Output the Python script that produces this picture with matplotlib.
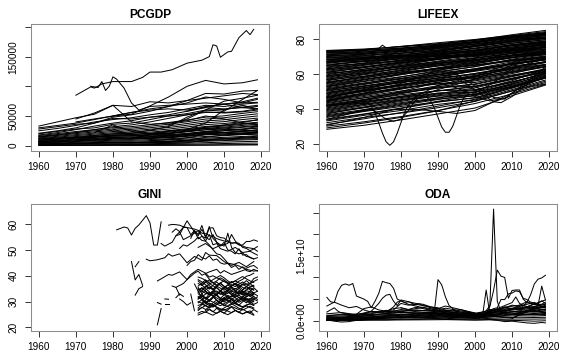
import numpy as np
import matplotlib
matplotlib.use("Agg")
import matplotlib.pyplot as plt

plt.rcParams['font.family'] = ['Liberation Sans', 'DejaVu Sans']

# ---------------- PCGDP (thousand US$) ----------------
gdp_years = [1960, 1965, 1970, 1975, 1980, 1985, 1990, 1995, 2000, 2005, 2010, 2015, 2019]

gdp_grid = [
    [33, 40, 47, 53, 68, 66, 74, 72, 76, 80, 84, 88, 86],
    [21, 25, 30, 38, 48, 52, 58, 66, 76, 88, 87, 92, 93],
    [None, None, 14, 17, 20, 21, 26, 32, 48, 60, 58, 78, 93],
    [None, None, None, None, None, None, None, None, 58, 66, 70, 74, 80],
    [None, None, None, None, 50, 56, 62, 66, 72, 82, 78, 72, 73],
    [None, None, 40, 45, 50, 53, 67, 82, 100, 110, 104, 106, 111],
    [25, 29, 34, 40, 44, 47, 52, 56, 62, 68, 66, 70, 72],
    [None, None, None, None, None, 13, 18, 25, 27, 38, 60, 68, 62],
    [None, None, 45, 55, 68, 40, 36, 38, 42, 50, 45, 38, 36],
    [18, 22, 27, 33, 38, 42, 48, 52, 58, 64, 62, 64, 66],
    [20, 24, 28, 30, 36, 38, 44, 50, 54, 60, 61, 65, 68],
    [15, 18, 22, 27, 32, 35, 40, 46, 52, 57, 55, 57, 60],
    [28, 32, 36, 38, 46, 45, 48, 50, 52, 56, 56, 58, 62],
    [None, None, None, None, None, None, None, 35, 45, 60, 75, 80, 85],
    [30, 34, 38, 44, 50, 56, 60, 62, 60, 65, 70, 72, 78],
    [0.2, 0.3, 0.3, 0.4, 0.5, 0.5, 0.6, 0.6, 0.7, 0.8, 1.0, 1.2, 1.3],
    [0.6, 0.7, 0.8, 0.9, 1.0, 0.9, 0.8, 0.9, 1.0, 1.2, 1.5, 1.7, 1.8],
    [1.0, 1.2, 1.4, 1.6, 1.9, 1.8, 1.9, 2.1, 2.4, 2.9, 3.6, 4.1, 4.4],
    [1.6, 2.0, 2.4, 2.8, 3.3, 3.1, 3.4, 3.8, 4.2, 5.0, 6.0, 6.8, 7.3],
    [2.2, 2.7, 3.3, 3.9, 4.6, 4.3, 4.8, 5.4, 6.2, 7.4, 8.6, 9.6, 10.3],
    [3.0, 3.6, 4.3, 5.2, 6.1, 5.8, 6.6, 7.5, 8.6, 10.1, 11.2, 12.4, 13.2],
    [3.8, 4.6, 5.5, 6.6, 7.6, 7.4, 8.4, 9.6, 11.0, 12.8, 14.0, 15.5, 16.4],
    [4.6, 5.7, 6.9, 8.0, 9.1, 9.0, 10.3, 11.6, 13.4, 15.5, 16.8, 18.6, 19.7],
    [5.5, 6.8, 8.2, 9.5, 10.7, 10.8, 12.2, 13.8, 15.8, 18.2, 19.5, 21.6, 23.0],
    [6.4, 7.9, 9.6, 11.0, 12.4, 12.6, 14.2, 15.9, 18.3, 21.0, 22.4, 24.7, 26.2],
    [7.4, 9.1, 11.0, 12.6, 14.1, 14.5, 16.2, 18.1, 20.8, 23.8, 25.3, 27.8, 29.4],
    [8.4, 10.3, 12.4, 14.2, 15.9, 16.4, 18.3, 20.4, 23.3, 26.6, 28.2, 30.9, 32.7],
    [9.5, 11.6, 13.9, 15.9, 17.8, 18.5, 20.5, 22.8, 26.0, 29.5, 31.2, 34.1, 36.0],
    [10.6, 12.9, 15.4, 17.6, 19.7, 20.6, 22.8, 25.3, 28.7, 32.4, 34.2, 37.3, 39.4],
    [11.8, 14.3, 17.0, 19.4, 21.7, 22.8, 25.2, 27.9, 31.5, 35.4, 37.3, 40.6, 42.9],
    [13.0, 15.7, 18.6, 21.2, 23.8, 25.1, 27.7, 30.6, 34.4, 38.5, 40.5, 44.0, 46.4],
    [14.3, 17.2, 20.3, 23.1, 25.9, 27.4, 30.2, 33.3, 37.3, 41.6, 43.7, 47.4, 50.0],
    [15.6, 18.7, 22.0, 25.0, 28.0, 29.7, 32.8, 36.1, 40.3, 44.8, 47.0, 50.9, 53.6],
    [17.0, 20.3, 23.8, 27.0, 30.2, 32.1, 35.4, 38.9, 43.3, 48.0, 50.3, 54.4, 57.2],
    [None, None, None, None, None, None, 6, 4, 5, 9, 12, 14, 16],
    [None, None, None, None, None, None, 9, 7, 9, 14, 18, 20, 23],
    [None, None, None, None, None, None, 12, 10, 13, 19, 22, 24, 27],
    [None, None, None, None, None, None, 15, 13, 17, 24, 27, 28, 32],
    [None, None, None, 22, 35, 24, 20, 21, 24, 29, 28, 26, 24],
    [None, None, None, None, 28, 18, 16, 17, 19, 22, 21, 19, 18],
    [None, None, 3, 4, 5, 5, 6, 7, 9, 11, 12, 13, 14],
    [None, None, 8, 10, 12, 12, 13, 15, 17, 20, 22, 24, 25],
    [12, 13, 14, 15, 17, 16, 18, 19, 20, 24, 22, 21, 22],
    [5, 6, 8, 9, 12, 11, 13, 14, 16, 19, 18, 20, 21],
    [7, 8, 10, 12, 14, 13, 15, 17, 19, 22, 25, 27, 30],
    [2.8, 3.3, 4.0, 4.8, 5.5, 5.1, 5.7, 6.4, 7.4, 8.6, 9.8, 11.0, 11.8],
    [9, 11, 13, 15, 16, 17, 19, 21, 24, 27, 30, 32, 34],
    [None, None, 11, 14, 18, 19, 21, 24, 27, 31, 33, 36, 38],
    [None, None, None, None, None, None, None, 20, 25, 31, 35, 39, 44],
]

gdp_top_years = [1970, 1972, 1974, 1975, 1977, 1980, 1985, 1988, 1990, 1993, 1996,
                 2000, 2004, 2006, 2007, 2008, 2009, 2011, 2012, 2014, 2016, 2017, 2018]
gdp_top = [85, 92, 99, 97, 104, 108, 108, 115, 124, 124, 128,
           139, 144, 150, 170, 168, 149, 158, 159, 182, 194, 187, 196]

gdp_bn_years = [1974, 1976, 1977, 1978, 1979, 1980, 1981, 1983, 1985, 1987,
                1990, 1995, 2000, 2005, 2010, 2015, 2019]
gdp_bn = [100, 98, 108, 93, 100, 116, 112, 97, 72, 60,
          66, 68, 70, 72, 70, 64, 62]

# ---------------- LIFEEX (years) ----------------
life_years = [1960, 1970, 1980, 1990, 2000, 2010, 2019]

life_grid = [
    [73.5, 74.3, 75.6, 77.0, 79.2, 81.6, 83.2],
    [73.2, 73.6, 74.9, 76.2, 78.0, 80.6, 82.6],
    [73.0, 74.0, 75.8, 77.9, 79.8, 82.1, 84.3],
    [72.5, 73.5, 74.8, 76.5, 78.7, 81.0, 82.9],
    [72.2, 73.0, 74.2, 75.8, 78.1, 80.9, 83.4],
    [72.0, 72.6, 74.5, 76.7, 79.5, 82.5, 85.0],
    [71.5, 72.0, 73.5, 75.3, 77.8, 80.5, 82.0],
    [71.2, 72.5, 74.0, 76.0, 78.6, 81.5, 83.8],
    [71.0, 71.8, 73.6, 75.0, 77.2, 80.1, 81.9],
    [70.5, 71.2, 73.2, 75.6, 78.4, 81.2, 82.7],
    [70.2, 71.5, 72.9, 74.3, 76.1, 78.9, 80.6],
    [70.0, 70.8, 72.0, 73.8, 76.5, 79.7, 81.3],
    [69.5, 70.5, 72.6, 74.9, 77.3, 79.6, 81.0],
    [69.2, 70.2, 71.8, 73.5, 75.7, 78.2, 80.2],
    [69.0, 69.8, 70.5, 71.5, 73.2, 76.5, 78.6],
    [68.5, 69.5, 70.6, 70.3, 69.8, 72.5, 75.5],
    [68.2, 69.0, 69.6, 70.2, 71.2, 74.0, 76.8],
    [68.0, 69.3, 71.2, 73.0, 75.9, 78.9, 80.9],
    [67.5, 68.9, 70.8, 72.9, 75.6, 78.6, 80.5],
    [67.2, 68.3, 70.0, 72.0, 74.7, 77.5, 79.7],
    [67.0, 69.0, 71.9, 74.6, 76.9, 79.4, 82.3],
    [66.8, 68.0, 70.4, 73.4, 76.2, 78.8, 81.2],
    [66.5, 67.4, 68.9, 70.1, 71.3, 73.9, 76.0],
    [66.0, 68.6, 70.2, 71.9, 73.8, 76.1, 77.7],
    [65.5, 67.0, 68.5, 70.6, 73.2, 76.4, 78.3],
    [65.0, 67.6, 69.6, 71.0, 72.6, 75.0, 76.4],
    [64.8, 67.2, 70.0, 72.6, 74.4, 76.8, 78.9],
    [64.5, 66.0, 67.5, 69.4, 71.8, 74.6, 77.4],
    [64.0, 66.3, 69.5, 72.3, 74.9, 77.7, 79.6],
    [63.5, 66.0, 68.9, 71.4, 73.7, 76.3, 78.1],
    [63.0, 65.5, 67.8, 70.2, 72.1, 74.5, 76.9],
    [62.8, 65.2, 68.0, 70.9, 73.0, 75.5, 77.6],
    [62.5, 64.0, 66.2, 68.4, 70.9, 73.5, 75.3],
    [62.0, 64.9, 67.4, 69.1, 70.6, 73.3, 75.1],
    [61.5, 64.2, 66.6, 68.8, 70.5, 72.6, 74.2],
    [61.0, 63.8, 67.0, 70.5, 73.5, 76.8, 78.9],
    [60.8, 63.5, 66.5, 69.5, 72.4, 75.4, 77.5],
    [60.5, 62.0, 64.0, 66.3, 68.0, 70.9, 72.8],
    [60.0, 62.6, 65.5, 68.2, 70.8, 73.1, 74.5],
    [59.5, 62.8, 66.0, 68.9, 71.2, 73.8, 75.8],
    [59.0, 62.0, 64.9, 67.0, 69.3, 71.9, 73.6],
    [58.8, 61.6, 64.3, 66.7, 69.0, 71.6, 73.2],
    [58.5, 60.5, 63.0, 65.2, 67.6, 72.0, 75.2],
    [58.0, 61.3, 64.8, 68.5, 71.6, 74.6, 76.8],
    [57.5, 60.8, 64.2, 67.4, 70.1, 73.2, 75.4],
    [57.0, 60.1, 63.5, 66.1, 68.4, 70.7, 72.3],
    [56.8, 59.9, 63.1, 65.8, 68.0, 70.3, 71.8],
    [56.5, 58.7, 61.0, 63.1, 65.0, 67.5, 69.0],
    [56.0, 59.5, 62.0, 64.5, 66.7, 69.5, 71.1],
    [55.5, 58.0, 60.6, 63.2, 66.0, 69.2, 71.8],
    [55.0, 58.6, 62.4, 65.8, 68.9, 72.0, 74.1],
    [54.8, 58.2, 61.8, 65.1, 67.8, 70.9, 73.0],
    [54.5, 57.5, 61.2, 64.7, 67.3, 70.6, 73.0],
    [54.0, 56.9, 60.2, 62.8, 65.2, 67.9, 69.7],
    [53.5, 56.8, 59.7, 62.3, 64.9, 68.1, 70.3],
    [53.0, 56.5, 60.0, 63.6, 66.8, 70.2, 72.4],
    [52.8, 55.9, 59.5, 63.2, 66.4, 69.7, 71.9],
    [52.5, 55.6, 58.4, 61.4, 64.1, 68.5, 71.0],
    [52.0, 54.8, 57.5, 60.5, 62.9, 65.8, 67.9],
    [51.5, 54.3, 57.0, 59.6, 62.2, 65.4, 68.2],
    [51.0, 54.6, 58.2, 62.0, 65.7, 69.4, 71.5],
    [50.8, 53.9, 57.3, 60.9, 64.3, 67.6, 69.9],
    [50.5, 53.0, 55.2, 57.6, 60.2, 63.1, 65.5],
    [50.0, 53.2, 56.1, 58.7, 61.5, 64.6, 66.8],
    [49.5, 52.2, 55.0, 57.5, 59.7, 63.8, 67.1],
    [49.0, 52.8, 56.4, 59.8, 63.0, 66.9, 70.0],
    [48.8, 52.0, 55.6, 59.3, 62.6, 66.1, 68.6],
    [48.5, 51.6, 55.0, 58.5, 62.0, 66.0, 68.7],
    [48.0, 51.0, 54.0, 56.7, 58.1, 61.4, 64.3],
    [47.5, 50.6, 53.6, 56.1, 57.4, 61.0, 65.2],
    [47.0, 50.4, 53.8, 57.8, 61.9, 65.5, 68.2],
    [46.8, 50.1, 53.4, 56.9, 60.3, 64.0, 66.6],
    [46.5, 49.8, 53.0, 56.2, 58.8, 62.9, 66.5],
    [46.0, 49.0, 52.0, 54.2, 55.1, 59.0, 63.0],
    [45.5, 48.6, 51.7, 54.4, 56.5, 60.2, 64.4],
    [45.0, 48.5, 52.4, 56.0, 59.2, 62.5, 65.3],
    [44.8, 48.0, 51.6, 55.3, 58.1, 61.9, 65.0],
    [44.5, 47.6, 51.2, 55.0, 58.6, 63.5, 67.0],
    [44.0, 47.0, 50.2, 52.5, 52.8, 57.2, 61.7],
    [43.5, 46.3, 49.3, 52.0, 53.9, 58.4, 62.6],
    [43.0, 46.2, 49.5, 53.3, 57.0, 60.8, 63.9],
    [42.5, 45.4, 48.9, 51.8, 54.3, 58.8, 62.0],
    [42.0, 45.0, 48.0, 50.4, 50.8, 55.3, 60.4],
    [41.5, 44.2, 47.2, 50.2, 52.6, 57.1, 61.0],
    [41.0, 44.6, 48.6, 52.6, 56.0, 59.4, 62.4],
    [40.5, 43.6, 46.9, 50.3, 53.0, 57.6, 61.5],
    [40.0, 43.2, 46.5, 49.0, 49.4, 54.2, 59.3],
    [39.5, 42.6, 45.8, 48.9, 51.0, 55.5, 60.0],
    [39.0, 42.4, 45.2, 48.5, 52.0, 56.8, 61.2],
    [38.5, 41.8, 45.0, 47.2, 48.2, 52.8, 57.7],
    [38.0, 41.0, 44.2, 47.5, 49.6, 53.5, 58.6],
    [37.5, 40.5, 43.5, 46.3, 48.4, 53.0, 58.0],
    [37.0, 40.8, 44.8, 48.0, 50.5, 56.1, 62.8],
    [36.5, 39.5, 43.0, 45.6, 47.4, 52.6, 59.0],
    [36.0, 39.0, 42.5, 46.2, 49.8, 55.2, 60.4],
    [35.5, 38.7, 42.0, 45.3, 48.3, 54.6, 61.0],
    [35.0, 38.4, 41.3, 44.0, 46.2, 51.8, 57.6],
    [34.0, 37.0, 40.4, 44.3, 47.7, 54.0, 59.8],
    [33.5, 36.8, 40.1, 43.8, 46.4, 52.4, 57.6],
    [33.0, 36.2, 39.0, 42.5, 45.0, 51.0, 56.5],
    [32.0, 35.0, 37.5, 40.6, 44.2, 50.3, 55.8],
    [31.0, 34.2, 37.8, 41.5, 45.5, 52.1, 58.2],
    [30.0, 32.5, 35.5, 39.0, 43.0, 48.5, 54.0],
    [29.0, 31.8, 35.0, 38.8, 44.5, 50.2, 55.0],
    [28.2, 30.5, 33.6, 37.0, 40.4, 47.5, 53.6],
]

life_special = [
    ([1960, 1965, 1969, 1971, 1972, 1973, 1974, 1975, 1976, 1977, 1978, 1979, 1980,
      1981, 1982, 1983, 1985, 1990, 2000, 2010, 2019],
     [41.5, 42.5, 43.2, 43.0, 41.5, 37.5, 32.0, 26.0, 21.0, 19.0, 21.0, 26.0, 32.0,
      38.0, 42.0, 44.5, 48.0, 53.5, 58.5, 66.5, 69.6]),
    ([1960, 1965, 1970, 1972, 1974, 1976, 1978, 1980, 1982, 1984, 1986, 1990, 2000, 2010, 2019],
     [34.0, 36.5, 39.5, 40.0, 37.0, 34.0, 32.8, 34.0, 39.0, 45.0, 48.0, 51.0, 57.0, 65.0, 69.0]),
    ([1960, 1970, 1980, 1985, 1987, 1988, 1989, 1990, 1991, 1992, 1993, 1994, 1995,
      1996, 1997, 1998, 2000, 2005, 2010, 2019],
     [42.0, 44.0, 46.5, 48.0, 46.5, 44.5, 40.5, 35.0, 29.5, 26.5, 26.5, 30.0, 36.0,
      42.0, 46.5, 48.0, 49.0, 55.0, 63.0, 69.0]),
    ([1960, 1970, 1978, 1985, 1990, 1995, 2000, 2005, 2010, 2015, 2019],
     [30.5, 35.0, 39.5, 39.5, 38.5, 37.3, 39.0, 44.0, 49.0, 52.5, 54.3]),
    ([1960, 1970, 1980, 1990, 1995, 2000, 2005, 2007, 2010, 2015, 2019],
     [46.0, 51.0, 56.0, 60.0, 58.0, 51.0, 44.0, 43.5, 47.0, 56.0, 61.0]),
    ([1960, 1970, 1980, 1990, 1995, 2000, 2005, 2008, 2010, 2015, 2019],
     [44.0, 49.0, 54.5, 62.0, 60.0, 53.0, 46.5, 45.5, 49.0, 57.0, 64.0]),
    ([1960, 1970, 1980, 1990, 1995, 2000, 2004, 2008, 2012, 2019],
     [42.0, 45.0, 50.0, 55.0, 52.0, 47.0, 44.5, 46.0, 52.0, 58.5]),
    ([1960, 1970, 1974, 1975, 1976, 1980, 1990, 2000, 2010, 2019],
     [72.8, 73.8, 74.6, 76.5, 75.0, 75.8, 77.4, 79.4, 81.8, 83.6]),
]

# ---------------- GINI (index) ----------------
gini_cluster_years = list(range(2002, 2020))
gini_cluster = [
    [None, 33.5, 34.0, 33.2, 32.8, 33.6, 34.1, 33.0, 32.5, 33.2, 34.0, 33.6, 32.9, 33.3, 34.2, 33.8, 33.4, None],
    [None, 28.5, 29.0, 28.3, 27.6, 28.2, 28.8, 29.5, 28.7, 28.0, 28.9, 29.4, 28.6, 28.0, 28.7, 29.1, 28.5, None],
    [None, 36.0, 37.2, 38.4, 37.0, 36.1, 35.3, 34.0, 33.5, 34.2, 35.0, 34.1, 33.3, 32.6, 33.4, 32.8, 33.1, None],
    [None, 25.5, 26.2, 25.8, 26.9, 26.1, 25.4, 26.2, 27.0, 26.3, 25.7, 26.6, 25.9, 25.2, 25.8, 26.4, 25.0, None],
    [None, 31.0, 31.8, 32.9, 33.5, 32.2, 31.4, 30.6, 31.5, 32.4, 31.7, 32.6, 33.5, 32.7, 31.9, 32.8, 32.0, None],
    [None, 35.0, 34.2, 35.6, 36.8, 37.5, 36.0, 35.2, 34.4, 35.3, 36.1, 37.0, 36.4, 35.5, 34.8, 35.6, 36.0, None],
    [None, 29.5, 30.8, 31.7, 30.5, 29.8, 29.0, 28.4, 29.2, 30.0, 31.1, 30.4, 29.7, 30.5, 31.3, 30.6, 29.9, None],
    [None, 38.5, 37.6, 36.5, 35.3, 34.6, 35.8, 36.9, 36.0, 35.0, 34.2, 35.1, 34.4, 33.6, 34.5, 35.3, 34.7, None],
    [None, 27.0, 27.6, 28.5, 29.4, 28.8, 27.9, 27.2, 26.6, 27.3, 28.1, 27.5, 26.9, 27.6, 28.3, 27.7, 27.1, None],
    [None, 32.0, 30.8, 29.6, 30.4, 31.5, 32.6, 33.8, 32.9, 31.8, 30.9, 31.7, 32.5, 31.4, 30.6, 31.2, 30.5, None],
    [None, 34.5, 35.3, 34.0, 33.1, 32.2, 33.0, 34.3, 35.5, 36.4, 35.6, 34.8, 35.7, 36.6, 35.9, 35.0, 34.4, None],
    [None, 30.0, 29.3, 28.5, 27.8, 28.6, 29.7, 30.4, 31.3, 30.6, 29.8, 29.1, 28.4, 27.8, 28.5, 29.2, 28.6, None],
    [None, 39.5, 39.0, 38.2, 37.4, 38.5, 39.3, 40.1, 39.2, 38.0, 37.2, 38.0, 38.9, 39.7, 38.8, 38.0, 37.4, None],
    [None, 26.5, 27.8, 26.9, 27.9, 28.7, 27.6, 26.8, 27.5, 28.4, 29.2, 28.3, 27.4, 26.7, 27.4, 28.2, 27.5, None],
    [None, 33.0, 32.1, 31.2, 32.0, 33.1, 32.3, 31.3, 30.4, 31.2, 32.1, 33.0, 34.0, 33.2, 32.4, 33.5, 32.6, None],
    [None, 37.0, 36.2, 37.5, 38.4, 37.3, 36.4, 37.2, 38.1, 37.4, 36.5, 35.8, 36.7, 37.6, 36.8, 35.9, 36.3, None],
    [None, 24.8, 25.4, 26.0, 25.3, 24.7, 25.6, 26.3, 25.5, 24.9, 25.7, 26.5, 25.8, 25.2, 26.0, 25.4, 24.7, None],
    [None, 31.5, 33.0, 34.5, 35.6, 34.8, 33.6, 32.8, 33.7, 34.5, 33.4, 32.5, 31.6, 30.9, 31.8, 32.6, 31.9, None],
    [None, None, 36.5, 35.0, 33.8, 32.0, 30.5, 29.6, 30.8, 31.9, 30.7, 29.5, 30.3, 31.4, 30.2, 29.4, 30.1, None],
    [None, None, None, 40.5, 38.7, 37.2, 38.0, 39.2, 38.4, 37.0, 36.0, 36.8, 37.9, 38.6, 39.8, 40.2, 41.0, None],
    [None, 35.5, 33.0, 31.2, 30.0, 31.5, 32.8, 31.0, 29.8, 30.9, 32.3, 31.5, 30.2, 31.6, 33.0, 32.1, 31.0, 31.8],
    [None, None, 29.5, 30.6, 32.0, 33.4, 32.5, 31.2, 32.6, 33.8, 32.9, 31.7, 32.9, 34.1, 33.2, 32.0, 33.1, 32.3],
    [36.8, 34.0, 31.5, 29.6, 28.4, 29.5, 30.6, 29.4, 28.3, 29.5, 30.8, 29.7, 28.6, 29.9, 31.0, 30.0, 28.9, 29.6],
    [None, 27.5, 28.8, 30.2, 29.0, 27.8, 28.9, 30.3, 31.5, 30.4, 29.2, 30.5, 31.7, 30.6, 29.5, 30.7, 31.9, 30.8],
    [None, None, 34.5, 36.0, 34.8, 36.3, 37.6, 36.2, 35.1, 36.5, 37.8, 36.6, 35.4, 36.8, 38.1, 36.9, 37.8, 38.5],
    [None, 31.0, 32.4, 31.1, 33.0, 34.2, 32.8, 34.0, 35.3, 33.9, 32.6, 33.9, 35.2, 33.8, 32.7, 34.0, 35.4, 34.0],
    [None, None, None, 26.5, 27.2, 26.0, 27.4, 26.2, 25.5, 26.8, 27.9, 26.6, 25.8, 27.1, 26.2, 25.6, 26.9, 26.0],
    [None, 38.0, 36.6, 37.8, 36.2, 34.9, 36.1, 37.3, 35.8, 34.7, 35.9, 37.1, 35.9, 34.6, 35.8, 37.0, 38.9, 39.5],
    [None, None, 30.5, 29.2, 30.6, 31.9, 30.5, 29.3, 30.7, 32.0, 30.8, 29.6, 30.8, 32.1, 30.9, 29.8, 31.0, 30.2],
    [None, 33.8, 35.4, 33.9, 32.6, 34.0, 35.5, 34.1, 32.8, 34.2, 35.6, 34.3, 33.0, 34.4, 35.8, 34.5, 33.3, 34.0],
]

gini_lines = [
    ([1981, 1983, 1984, 1985, 1986, 1987, 1988, 1989, 1990, 1991, 1992, 1993],
     [57.8, 58.9, 58.5, 55.8, 58.4, 59.7, 61.5, 63.3, 60.5, 51.9, 51.9, 60.9]),
    ([1985, 1986, 1987, 1988], [45.5, 38.4, 40.5, 36.3]),
    ([1986, 1987], [43.5, 45.5]),
    ([1986, 1987, 1988], [32.5, 35.0, 35.8]),
    ([1992, 1993], [21.0, 27.3]),
    ([1992, 1993], [29.6, 29.0]),
    ([1994, 1995], [31.0, 30.9]),
    ([1994, 1995], [29.0, 29.0]),
    ([1996, 1997, 1998], [36.0, 35.5, 32.5]),
    ([1997, 1998, 1999], [31.5, 33.0, 32.0]),
    ([1998, 1999, 2000, 2001], [31.0, 30.0, 28.6, 29.5]),
    ([2001, 2002], [32.9, 26.4]),
    ([1995, 1996, 1997, 1998, 1999, 2001, 2002, 2003, 2004, 2005, 2006, 2007, 2008, 2009,
      2011, 2012, 2013, 2014, 2015, 2016, 2017, 2018, 2019],
     [59.6, 59.9, 59.8, 59.6, 59.0, 58.4, 58.1, 57.6, 56.5, 56.3, 55.6, 55.2, 54.4, 53.9,
      53.1, 52.7, 52.8, 52.0, 51.9, 53.3, 53.3, 53.9, 53.4]),
    ([1996, 1997, 1998, 1999, 2000, 2001, 2002, 2003, 2004, 2005, 2006, 2007, 2008, 2009,
      2010, 2011, 2012, 2013, 2014, 2015, 2016, 2017, 2018, 2019],
     [56.9, 58.2, 57.1, 58.8, 58.7, 55.9, 57.5, 54.3, 55.3, 54.6, 58.5, 58.6, 55.5, 54.8,
      54.6, 53.5, 52.6, 52.8, 52.6, 51.0, 50.6, 49.7, 50.4, 51.3]),
    ([1997, 1998, 2000, 2002, 2003, 2004, 2005, 2006, 2007, 2008, 2009, 2010, 2011, 2012,
      2013, 2014, 2015, 2016, 2017, 2018],
     [55.5, 56.0, 61.3, 57.0, 55.5, 58.0, 55.0, 59.1, 54.5, 53.0, 52.0, 51.5, 56.5, 51.0,
      49.0, 48.5, 48.8, 47.5, 47.2, 46.5]),
    ([1998, 1999, 2000, 2001, 2002, 2003, 2004, 2005, 2006, 2007, 2008, 2009, 2010, 2011,
      2012, 2013, 2014, 2015, 2016, 2017, 2018, 2019],
     [50.6, 52.0, 51.5, 52.5, 53.5, 55.0, 53.7, 53.4, 52.0, 50.1, 48.5, 48.1, 46.6, 44.9,
      44.6, 44.3, 43.8, 43.1, 42.9, 43.6, 44.0, 42.9]),
    ([1989, 1990, 1992, 1994, 1995, 1996, 1998, 2000, 2002, 2004, 2005, 2006, 2008, 2010,
      2012, 2014, 2016, 2018],
     [46.4, 45.8, 46.2, 47.0, 48.5, 47.6, 48.5, 45.0, 47.5, 46.0, 49.0, 48.0, 47.8, 45.5,
      44.0, 45.2, 43.5, 45.5]),
    ([1993, 1994, 1996, 1997, 1998, 1999, 2001, 2003, 2005, 2006, 2007, 2008, 2009, 2011,
      2013, 2015, 2017, 2019],
     [52.5, 51.5, 53.0, 55.5, 57.0, 54.0, 55.5, 57.5, 53.5, 56.0, 52.0, 52.5, 50.5, 49.5,
      51.0, 49.0, 49.5, 48.0]),
    ([2003, 2005, 2007, 2009, 2011, 2012, 2013, 2014, 2016, 2018, 2019],
     [51.0, 52.5, 50.5, 51.8, 52.5, 56.0, 53.5, 52.0, 51.0, 50.5, 49.5]),
    ([1992, 1993, 1995, 1996, 1998, 2000, 2002, 2003, 2004, 2006, 2008, 2009, 2010, 2012,
      2014, 2016, 2018, 2019],
     [38.0, 38.8, 40.5, 40.2, 41.5, 38.5, 41.0, 41.8, 40.2, 41.5, 42.5, 41.0, 42.0, 40.5,
      41.5, 42.5, 41.8, 42.0]),
    ([1997, 1999, 2000, 2001, 2003, 2005, 2006, 2007, 2009, 2011, 2013, 2015, 2017, 2018],
     [35.5, 37.0, 38.5, 40.5, 42.5, 41.0, 39.5, 40.0, 38.5, 37.0, 38.0, 36.5, 37.0, 35.8]),
    ([2000, 2001, 2002, 2003, 2004, 2005, 2006, 2007, 2008, 2009, 2010, 2011, 2012, 2013,
      2014, 2015, 2016, 2017, 2018, 2019],
     [44.0, 45.5, 46.0, 48.2, 47.0, 46.5, 47.7, 46.0, 46.5, 45.0, 44.5, 44.8, 43.2, 44.0,
      42.5, 43.5, 42.0, 41.6, 42.5, 41.8]),
    ([2001, 2002, 2003, 2004, 2005, 2006, 2007, 2008, 2009, 2010, 2011, 2012, 2013, 2014,
      2015, 2016, 2017, 2018, 2019],
     [54.5, 57.5, 56.0, 59.5, 55.0, 54.0, 56.0, 53.0, 51.5, 53.0, 50.0, 49.5, 48.5, 50.5,
      48.0, 48.2, 47.0, 46.5, 47.0]),
]

# ---------------- ODA (billion US$) ----------------
oda_years = [1960, 1964, 1968, 1972, 1976, 1980, 1984, 1988, 1992, 1996, 2000, 2004, 2008, 2012, 2016, 2019]
oda_grid = [
    [0.05, 0.08, 0.10, 0.12, 0.15, 0.18, 0.20, 0.22, 0.25, 0.22, 0.20, 0.30, 0.35, 0.40, 0.38, 0.42],
    [0.15, 0.20, 0.25, 0.30, 0.35, 0.40, 0.45, 0.50, 0.55, 0.45, 0.40, 0.55, 0.70, 0.80, 0.75, 0.80],
    [0.30, 0.35, 0.42, 0.50, 0.60, 0.70, 0.75, 0.80, 0.85, 0.70, 0.60, 0.85, 1.05, 1.15, 1.10, 1.20],
    [0.45, 0.50, 0.60, 0.70, 0.85, 0.95, 1.00, 1.05, 1.10, 0.95, 0.80, 1.10, 1.35, 1.50, 1.45, 1.55],
    [0.60, 0.70, 0.80, 0.95, 1.10, 1.25, 1.30, 1.35, 1.40, 1.20, 1.05, 1.40, 1.70, 1.85, 1.80, 1.90],
    [0.80, 0.90, 1.05, 1.20, 1.40, 1.55, 1.60, 1.65, 1.70, 1.45, 1.25, 1.65, 2.00, 2.20, 2.10, 2.25],
    [1.00, 1.10, 1.30, 1.45, 1.70, 1.90, 1.95, 2.00, 2.05, 1.75, 1.50, 1.95, 2.35, 2.60, 2.45, 2.60],
    [1.25, 1.35, 1.55, 1.80, 2.10, 2.30, 2.35, 2.40, 2.40, 2.05, 1.75, 2.30, 2.75, 3.00, 2.85, 3.00],
    [0.10, 0.02, 0.15, 0.25, 0.20, 0.35, 0.30, 0.40, 0.30, 0.25, 0.15, 0.20, 0.10, 0.05, -0.10, 0.00],
    [0.20, 0.40, 0.30, 0.55, 0.80, 0.65, 0.90, 0.70, 1.00, 0.85, 0.70, 1.20, 1.55, 1.30, 1.70, 1.40],
    [0.90, 0.70, 1.00, 0.80, 1.20, 1.50, 1.20, 1.45, 1.25, 1.10, 0.95, 1.35, 1.90, 1.60, 2.40, 2.00],
    [1.60, 1.90, 1.40, 2.20, 1.80, 2.60, 2.10, 1.80, 2.20, 1.60, 1.40, 2.60, 2.20, 3.20, 2.70, 3.40],
    [0.70, 0.55, 0.95, 1.30, 1.60, 2.00, 1.70, 1.90, 1.50, 1.30, 1.10, 1.80, 2.60, 2.90, 3.30, 3.80],
    [1.10, 1.50, 1.20, 1.60, 2.40, 2.10, 2.50, 2.20, 1.90, 1.50, 1.20, 2.10, 3.10, 3.60, 3.00, 3.20],
    [0.35, 0.60, 0.50, 0.90, 1.10, 1.00, 1.20, 1.10, 1.30, 1.10, 0.90, 1.30, 1.80, 2.30, 2.10, 2.70],
    [0.50, 0.40, 0.70, 0.60, 1.00, 1.30, 1.50, 1.20, 1.60, 1.40, 1.00, 1.60, 2.40, 2.00, 2.80, 2.40],
    [0.25, 0.30, 0.35, 0.45, 0.55, 0.80, 0.70, 1.00, 0.80, 0.70, 0.55, 0.90, 1.20, 1.60, 1.40, 1.70],
]

oda_lines = [
    ([1960, 1961, 1962, 1963, 1964, 1965, 1966, 1967, 1968, 1970, 1971, 1972, 1973, 1974, 1975,
      1976, 1977, 1978, 1979, 1980, 1982, 1985, 1988, 1990, 1995, 2000, 2005, 2010, 2015, 2019],
     [5.4, 4.4, 4.2, 6.8, 8.2, 8.5, 8.2, 8.6, 5.7, 5.0, 4.5, 3.0, 4.5, 6.3, 9.1,
      8.8, 8.6, 7.5, 5.0, 4.6, 3.8, 3.2, 2.8, 2.4, 1.9, 1.6, 1.9, 2.6, 3.1, 3.3]),
    ([1960, 1962, 1964, 1966, 1968, 1970, 1972, 1975, 1978, 1980, 1985, 1990, 1995, 2000],
     [3.4, 4.3, 3.6, 3.0, 3.3, 2.5, 2.0, 2.2, 1.8, 2.0, 1.6, 1.8, 1.3, 1.0]),
    ([1970, 1972, 1974, 1975, 1976, 1977, 1978, 1979, 1980, 1982, 1984, 1986, 1988, 1990],
     [1.5, 2.2, 4.0, 5.2, 5.9, 6.1, 4.5, 3.5, 4.8, 4.4, 4.0, 3.8, 3.2, 3.0]),
    ([1976, 1978, 1979, 1980, 1981, 1982, 1983, 1984, 1985, 1986, 1987, 1988, 1989, 1990,
      1992, 1994, 1996, 1998, 2000],
     [2.0, 3.2, 4.3, 4.6, 4.2, 4.4, 4.0, 3.7, 3.9, 3.5, 3.3, 3.0, 2.8, 2.5,
      2.9, 2.6, 2.3, 2.0, 1.5]),
    ([1978, 1980, 1982, 1984, 1986, 1988, 1990, 1992, 1994, 1996, 1998, 2000],
     [2.5, 4.0, 3.6, 3.8, 3.5, 3.2, 2.8, 3.4, 3.0, 2.6, 2.2, 1.8]),
    ([1966, 1968, 1970, 1972, 1974, 1976, 1978, 1980, 1982, 1984, 1986, 1988, 1990, 1992, 1994, 1996],
     [1.0, 1.5, 2.8, 3.2, 2.5, 2.2, 2.8, 3.0, 2.5, 2.8, 3.1, 2.5, 2.2, 1.8, 1.6, 1.2]),
    ([1960, 1961, 1962, 1963, 1964, 1966, 1968, 1970],
     [2.0, 2.5, 3.0, 2.2, 1.8, 1.5, 1.2, 1.4]),
    ([1980, 1982, 1984, 1986, 1988, 1990, 1992, 1994, 1996, 1998, 2000],
     [3.0, 2.6, 3.1, 2.8, 2.4, 2.9, 2.5, 2.3, 2.6, 2.1, 1.7]),
    ([1986, 1988, 1989, 1990, 1991, 1992, 1993, 1994, 1995, 1996, 2000, 2005, 2010, 2015, 2019],
     [1.6, 1.8, 2.0, 9.5, 8.3, 5.5, 3.5, 2.8, 2.2, 2.0, 1.4, 1.0, 0.6, 2.5, 1.8]),
    ([2000, 2002, 2003, 2004, 2005, 2006, 2007, 2008, 2010, 2015, 2019],
     [0.8, 1.2, 2.3, 3.5, 25.8, 4.5, 2.0, 1.5, 1.5, 2.4, 3.3]),
    ([2000, 2003, 2004, 2005, 2006, 2007, 2008, 2009, 2010, 2011, 2012, 2013, 2014, 2015, 2017, 2019],
     [0.9, 1.5, 3.3, 7.0, 11.7, 10.3, 10.0, 5.2, 7.0, 7.1, 7.1, 5.0, 4.2, 4.0, 3.5, 3.0]),
    ([2000, 2001, 2002, 2003, 2004, 2005, 2006], [0.6, 0.8, 1.0, 7.1, 1.5, 1.2, 1.0]),
    ([2001, 2002, 2003, 2004, 2005, 2006, 2007, 2008, 2009, 2010, 2011, 2012, 2013, 2014,
      2015, 2016, 2017, 2018, 2019],
     [0.4, 1.3, 1.6, 2.4, 2.8, 3.0, 4.9, 4.9, 6.2, 6.4, 6.9, 6.7, 5.2, 4.9,
      4.3, 4.1, 3.8, 3.8, 4.3]),
    ([2010, 2012, 2013, 2014, 2015, 2016, 2017, 2018, 2019],
     [0.5, 1.5, 3.5, 4.2, 6.0, 8.5, 9.6, 9.9, 10.5]),
    ([2014, 2015, 2016, 2017, 2018, 2019], [2.0, 2.5, 3.0, 3.5, 8.0, 4.8]),
    ([2000, 2002, 2004, 2006, 2008, 2010, 2012, 2014, 2016, 2018, 2019],
     [1.0, 1.4, 1.8, 2.2, 3.0, 3.6, 3.3, 3.8, 4.2, 3.6, 3.9]),
    ([2002, 2004, 2006, 2008, 2010, 2011, 2012, 2014, 2016, 2018, 2019],
     [1.5, 2.2, 2.8, 3.5, 4.2, 5.5, 4.0, 3.2, 3.8, 4.5, 4.8]),
    ([2004, 2006, 2008, 2010, 2012, 2014, 2016, 2018, 2019],
     [2.0, 2.6, 3.2, 2.8, 3.6, 4.4, 3.7, 4.6, 4.0]),
    ([2004, 2006, 2008, 2010, 2012, 2014, 2016, 2018, 2019],
     [1.6, 2.2, 2.0, 2.9, 2.5, 3.2, 4.0, 3.3, 3.6]),
    ([2004, 2006, 2008, 2010, 2012, 2014, 2016, 2018, 2019],
     [0.3, 0.1, -0.2, -0.1, -0.3, -0.5, -0.6, -0.4, -0.5]),
    ([1960, 1962, 1964, 1966, 1968, 1970], [0.2, -0.1, -0.3, -0.2, 0.1, 0.2]),
]

# ---------------- layout (pixels of the 576x360 figure) ----------------
W, H = 576, 360
BOX_W, BOX_H = 238.6, 126.4
LINE_W = 0.72
LINE_C = 'black'


def box_rect(left_px, top_px):
    return [left_px / W, 1 - (top_px + BOX_H) / H, BOX_W / W, BOX_H / H]


def style_axes(ax, title, yticks, ylabels, ylim):
    ax.set_xlim(1957.8, 2022.2)
    ax.set_ylim(*ylim)
    ax.set_xticks(range(1960, 2021, 10))
    ax.set_yticks(yticks)
    ax.set_yticklabels(ylabels, rotation=90, va='center')
    ax.tick_params(direction='out', length=4.3, width=0.7, color='#333333',
                   labelsize=7.2, labelcolor='black')
    ax.tick_params(axis='x', pad=3.5)
    ax.tick_params(axis='y', pad=4.5)
    for sp in ax.spines.values():
        sp.set_color('#8c8c8c')
        sp.set_linewidth(0.75)
    ax.set_title(title, fontsize=8.6, fontweight='bold', pad=4.5)


def grid_lines(ax, years, rows, scale=1.0):
    for row in rows:
        ax.plot(years, np.array(row, dtype=float) * scale, color=LINE_C, lw=LINE_W)


def free_lines(ax, pairs, scale=1.0):
    for yrs, vals in pairs:
        ax.plot(yrs, np.array(vals, dtype=float) * scale, color=LINE_C, lw=LINE_W)


fig = plt.figure(figsize=(W / 100, H / 100), dpi=100)

ax1 = fig.add_axes(box_rect(30.7, 24.3))
grid_lines(ax1, gdp_years, gdp_grid, 1000)
free_lines(ax1, [(gdp_top_years, gdp_top), (gdp_bn_years, gdp_bn)], 1000)
style_axes(ax1, "PCGDP", [0, 50000, 100000, 150000, 200000],
           ['0', '50000', '', '150000', ''], (-8500, 204500))

ax2 = fig.add_axes(box_rect(318.7, 24.3))
grid_lines(ax2, life_years, life_grid)
free_lines(ax2, life_special)
style_axes(ax2, "LIFEEX", [20, 40, 60, 80], ['20', '40', '60', '80'], (15.9, 88.5))

ax3 = fig.add_axes(box_rect(30.7, 204.3))
grid_lines(ax3, gini_cluster_years, gini_cluster)
free_lines(ax3, gini_lines)
style_axes(ax3, "GINI", [20, 30, 40, 50, 60], ['20', '30', '40', '50', '60'], (18.7, 67.7))

ax4 = fig.add_axes(box_rect(318.7, 204.3))
grid_lines(ax4, oda_years, oda_grid, 1e9)
free_lines(ax4, oda_lines, 1e9)
style_axes(ax4, "ODA", [0, 5e9, 1e10, 1.5e10, 2e10, 2.5e10],
           ['0.0e+00', '', '', '1.5e+10', '', ''], (-2.3e9, 26.9e9))

fig.savefig("out.png", dpi=100)
